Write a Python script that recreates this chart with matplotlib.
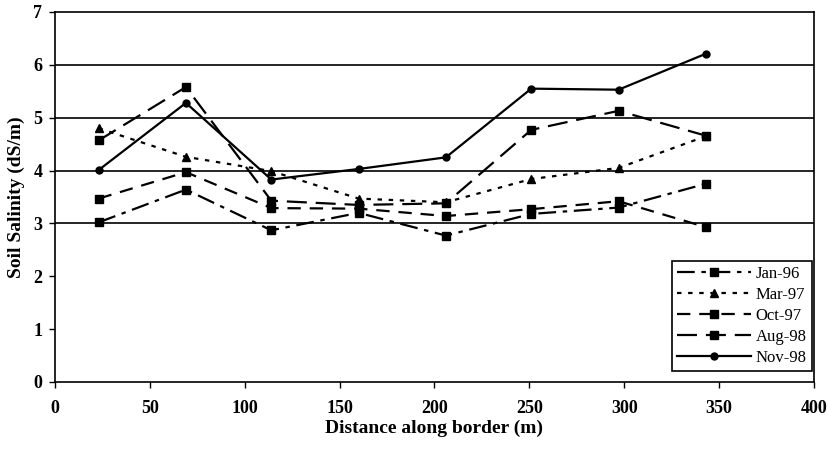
"""Soil salinity along the border, five survey dates."""

import matplotlib

matplotlib.use("Agg")

import matplotlib.pyplot as plt

plt.rcParams["font.family"] = ["Liberation Serif", "DejaVu Serif"]

distance = [23, 69, 114, 160, 206, 251, 297, 343]

jan96 = [3.02, 3.64, 2.87, 3.20, 2.77, 3.18, 3.30, 3.75]
mar97 = [4.80, 4.26, 3.99, 3.47, 3.40, 3.84, 4.05, 4.65]
oct97 = [3.47, 3.97, 3.29, 3.28, 3.14, 3.27, 3.42, 2.93]
aug98 = [4.57, 5.58, 3.43, 3.35, 3.38, 4.77, 5.13, 4.66]
nov98 = [4.01, 5.28, 3.83, 4.03, 4.25, 5.55, 5.53, 6.21]

series = [
    ("Jan-96", jan96, "s", (0, (8, 3, 2, 3))),
    ("Mar-97", mar97, "^", (0, (2, 3))),
    ("Oct-97", oct97, "s", (0, (6, 4))),
    ("Aug-98", aug98, "s", (0, (9, 4))),
    ("Nov-98", nov98, "o", "-"),
]

fig = plt.figure(figsize=(8.29, 4.5), dpi=100)
ax = fig.add_axes([55 / 829, 68 / 450, 759 / 829, 370 / 450])

for label, values, marker, ls in series:
    ax.plot(distance, values, color="black", linestyle=ls, linewidth=1.6,
            marker=marker, markersize=6 if marker != "o" else 5, label=label)

ax.set_xlim(0, 400)
ax.set_ylim(0, 7)
ax.set_xticks(range(0, 401, 50))
ax.set_yticks(range(0, 8))
for y in (3, 4, 5, 6):
    ax.axhline(y, color="black", linewidth=1.2, zorder=0)

ax.tick_params(direction="out", length=4, width=1, labelsize=13)
ax.tick_params(axis="x", pad=9)
ax.tick_params(axis="y", pad=5)
for lbl in ax.get_xticklabels() + ax.get_yticklabels():
    lbl.set_fontweight("bold")
for sp in ax.spines.values():
    sp.set_linewidth(1.2)

ax.set_xlabel("Distance along border (m)", fontsize=14, fontweight="bold",
              labelpad=2)
ax.set_ylabel("Soil Salinity (dS/m)", fontsize=14, fontweight="bold",
              labelpad=6)

leg = ax.legend(loc="lower right", bbox_to_anchor=(0.999, 0.025),
                borderaxespad=0.1, fontsize=12, handlelength=4.4,
                handletextpad=0.3, labelspacing=0.3, borderpad=0.3,
                fancybox=False, framealpha=1, edgecolor="black")
leg.get_frame().set_linewidth(1.2)

fig.savefig("out.png", dpi=100)
